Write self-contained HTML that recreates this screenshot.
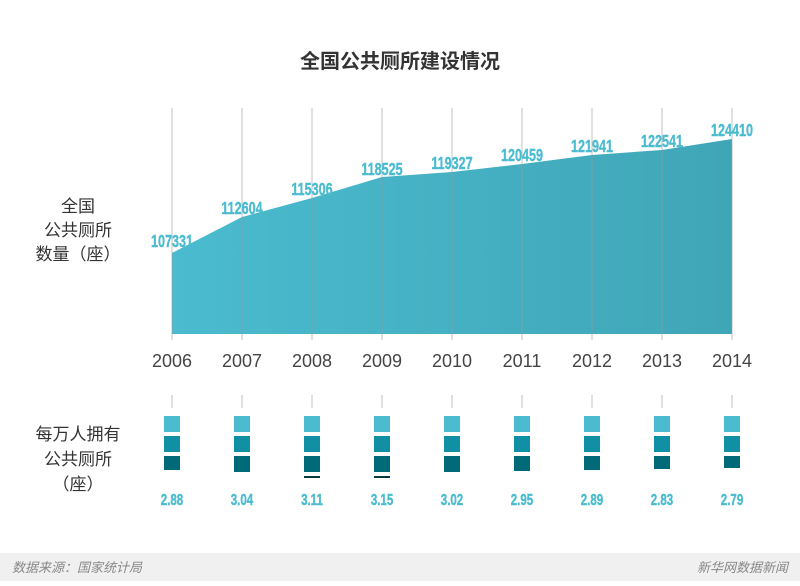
<!DOCTYPE html>
<html><head><meta charset="utf-8"><style>
body{margin:0;width:800px;height:581px;background:#fff;overflow:hidden;font-family:"Liberation Sans","Noto Sans CJK SC",sans-serif}
</style></head><body>
<svg width="800" height="581" xmlns="http://www.w3.org/2000/svg">
<defs><linearGradient id="g" x1="0" x2="1"><stop offset="0" stop-color="#4bbbcf"/><stop offset="1" stop-color="#3fa6b7"/></linearGradient></defs>
<text x="400" y="68" text-anchor="middle" font-size="20" font-weight="bold" fill="#333" font-family="Noto Sans CJK SC,sans-serif">全国公共厕所建设情况</text>
<polygon points="172,253 242,217 312,198 382,177 452,172 522,164 592,155 662,150 732,139 732,334 172,334" fill="url(#g)"/>
<g stroke="#999" stroke-width="1" opacity="0.6">
<line x1="172" y1="108" x2="172" y2="340"/><line x1="242" y1="108" x2="242" y2="340"/><line x1="312" y1="108" x2="312" y2="340"/><line x1="382" y1="108" x2="382" y2="340"/><line x1="452" y1="108" x2="452" y2="340"/><line x1="522" y1="108" x2="522" y2="340"/><line x1="592" y1="108" x2="592" y2="340"/><line x1="662" y1="108" x2="662" y2="340"/><line x1="732" y1="108" x2="732" y2="340"/>
<line x1="172" y1="395" x2="172" y2="408"/><line x1="242" y1="395" x2="242" y2="408"/><line x1="312" y1="395" x2="312" y2="408"/><line x1="382" y1="395" x2="382" y2="408"/><line x1="452" y1="395" x2="452" y2="408"/><line x1="522" y1="395" x2="522" y2="408"/><line x1="592" y1="395" x2="592" y2="408"/><line x1="662" y1="395" x2="662" y2="408"/><line x1="732" y1="395" x2="732" y2="408"/>
</g>
<g transform="scale(0.7,1)" font-family="Liberation Sans,sans-serif" font-weight="bold" font-size="18" fill="#4bbcd0" stroke="#4bbcd0" stroke-width="0.4" text-anchor="middle">
<text x="245.7" y="247">107331</text><text x="345.7" y="214">112604</text><text x="445.7" y="195">115306</text><text x="545.7" y="175">118525</text><text x="645.7" y="169">119327</text><text x="745.7" y="161">120459</text><text x="845.7" y="152">121941</text><text x="945.7" y="147">122541</text><text x="1045.7" y="136">124410</text>
</g>
<g font-size="18" fill="#444" text-anchor="middle">
<text x="172" y="367">2006</text><text x="242" y="367">2007</text><text x="312" y="367">2008</text><text x="382" y="367">2009</text><text x="452" y="367">2010</text><text x="522" y="367">2011</text><text x="592" y="367">2012</text><text x="662" y="367">2013</text><text x="732" y="367">2014</text>
</g>
<g font-size="17" fill="#333" text-anchor="middle" font-family="Noto Sans CJK SC,sans-serif">
<text x="78" y="212">全国</text><text x="78" y="236">公共厕所</text><text x="78" y="260">数量（座）</text>
<text x="78" y="440">每万人拥有</text><text x="78" y="465">公共厕所</text><text x="78" y="490">（座）</text>
</g>
<g transform="scale(0.72,1)" font-family="Liberation Sans,sans-serif" font-weight="bold" font-size="16" fill="#4bbcd0" stroke="#4bbcd0" stroke-width="0.4" text-anchor="middle">
<text x="238.9" y="505">2.88</text><text x="336.1" y="505">3.04</text><text x="433.3" y="505">3.11</text><text x="530.6" y="505">3.15</text><text x="627.8" y="505">3.02</text><text x="725" y="505">2.95</text><text x="822.2" y="505">2.89</text><text x="919.4" y="505">2.83</text><text x="1016.7" y="505">2.79</text>
</g>
<g>
<rect x="164" y="416" width="16" height="16" fill="#4bbcd0"/><rect x="164" y="436" width="16" height="16" fill="#118fa5"/><rect x="164" y="456" width="16" height="14" fill="#006a78"/>
<rect x="234" y="416" width="16" height="16" fill="#4bbcd0"/><rect x="234" y="436" width="16" height="16" fill="#118fa5"/><rect x="234" y="456" width="16" height="16" fill="#006a78"/>
<rect x="304" y="416" width="16" height="16" fill="#4bbcd0"/><rect x="304" y="436" width="16" height="16" fill="#118fa5"/><rect x="304" y="456" width="16" height="16" fill="#006a78"/><rect x="304" y="476" width="16" height="2" fill="#0a3a40"/>
<rect x="374" y="416" width="16" height="16" fill="#4bbcd0"/><rect x="374" y="436" width="16" height="16" fill="#118fa5"/><rect x="374" y="456" width="16" height="16" fill="#006a78"/><rect x="374" y="476" width="16" height="2" fill="#0a3a40"/>
<rect x="444" y="416" width="16" height="16" fill="#4bbcd0"/><rect x="444" y="436" width="16" height="16" fill="#118fa5"/><rect x="444" y="456" width="16" height="16" fill="#006a78"/>
<rect x="514" y="416" width="16" height="16" fill="#4bbcd0"/><rect x="514" y="436" width="16" height="16" fill="#118fa5"/><rect x="514" y="456" width="16" height="15" fill="#006a78"/>
<rect x="584" y="416" width="16" height="16" fill="#4bbcd0"/><rect x="584" y="436" width="16" height="16" fill="#118fa5"/><rect x="584" y="456" width="16" height="14" fill="#006a78"/>
<rect x="654" y="416" width="16" height="16" fill="#4bbcd0"/><rect x="654" y="436" width="16" height="16" fill="#118fa5"/><rect x="654" y="456" width="16" height="13" fill="#006a78"/>
<rect x="724" y="416" width="16" height="16" fill="#4bbcd0"/><rect x="724" y="436" width="16" height="16" fill="#118fa5"/><rect x="724" y="456" width="16" height="12" fill="#006a78"/>
</g>
<rect x="0" y="553" width="800" height="28" fill="#f0f0f0"/>
<text x="12" y="572" font-size="13" fill="#888" font-style="italic" font-family="Noto Sans CJK SC,sans-serif">数据来源：国家统计局</text>
<text x="788" y="572" font-size="13" fill="#888" font-style="italic" text-anchor="end" font-family="Noto Sans CJK SC,sans-serif">新华网数据新闻</text>
</svg>
</body></html>
